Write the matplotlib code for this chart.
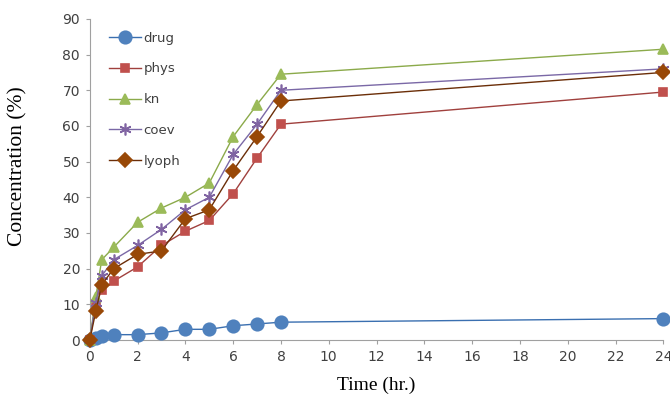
import numpy as np
import matplotlib
matplotlib.use('Agg')
import matplotlib.pyplot as plt

# time points (hr.)
t = [0, 0.25, 0.5, 1, 2, 3, 4, 5, 6, 7, 8, 24]

# release data (%)
drug = [0, 0.5, 1.0, 1.5, 1.5, 2.0, 3.0, 3.0, 4.0, 4.5, 5.0, 6.0]
phys = [0, 10.0, 14.0, 16.5, 20.5, 26.5, 30.5, 33.5, 41.0, 51.0, 60.5, 69.5]
kn = [0, 12.0, 22.5, 26.0, 33.0, 37.0, 40.0, 44.0, 57.0, 66.0, 74.5, 81.5]
coev = [0, 10.5, 18.0, 22.5, 26.5, 31.0, 36.5, 40.0, 52.0, 60.5, 70.0, 76.0]
lyoph = [0, 8.0, 15.5, 20.0, 24.0, 25.0, 34.0, 36.5, 47.5, 57.0, 67.0, 75.0]

series = [
    ('drug', drug, '#4F81BD', '#3A6FB0', 'o', 9),
    ('phys', phys, '#C0504D', '#A0403D', 's', 6),
    ('kn', kn, '#9BBB59', '#8BAA4A', '^', 6.5),
    ('coev', coev, '#8064A2', '#7A68A6', (6, 2, 0), 8.5),
    ('lyoph', lyoph, '#984807', '#6B2E08', 'D', 7.5),
]

fig = plt.figure(figsize=(6.7, 3.94), dpi=100)
ax = fig.add_axes([0.134, 0.137, 0.856, 0.815])

for name, y, mc, lc, mk, ms in series:
    ax.plot(t, y, color=lc, lw=1.0, marker=mk, ms=ms, mfc=mc, mec=mc,
            mew=1.2, label=name, clip_on=False, zorder=3)

ax.set_xlim(0, 24)
ax.set_ylim(0, 90)
ax.set_xticks(range(0, 25, 2))
ax.set_yticks(range(0, 91, 10))
for s in ['top', 'right']:
    ax.spines[s].set_visible(False)
for s in ['left', 'bottom']:
    ax.spines[s].set_color('#A0A0A0')
ax.tick_params(colors='#A0A0A0', labelcolor='#404040', labelsize=10,
               length=3, pad=4)

ax.set_xlabel('Time (hr.)', family='Liberation Serif', fontsize=14, labelpad=9)
ax.set_ylabel('Concentration (%)', family='Liberation Serif', fontsize=15.5)
ax.yaxis.set_label_coords(-0.108, 0.54)

leg = ax.legend(loc='upper left', bbox_to_anchor=(0.02, 0.985), frameon=False,
                fontsize=9.5, labelspacing=1.35, handlelength=2.4,
                handletextpad=0.2, borderaxespad=0.2)
for txt in leg.get_texts():
    txt.set_color('#404040')

fig.savefig('out.png', dpi=100)
